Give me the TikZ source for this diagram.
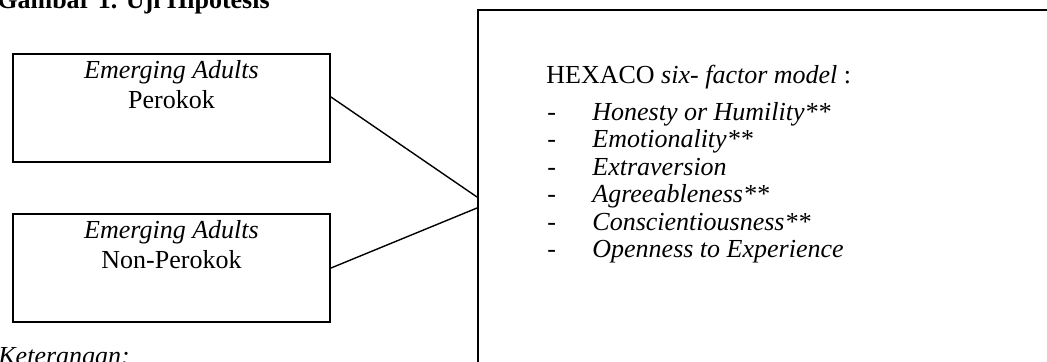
\documentclass[tikz,border=0pt]{standalone}
\usepackage{fontspec}
\setmainfont{Liberation Serif}
\usetikzlibrary{positioning}

\begin{document}
\begin{tikzpicture}[x=0.5pt,y=-0.5pt,
  groupbox/.style={draw, line width=1pt, minimum width=158.5pt,
               minimum height=54pt, inner sep=0pt},
  grouptext/.style={anchor=north, align=center, inner sep=0pt,
               font=\fontsize{13}{14.75}\selectfont},
  modelbox/.style={draw, line width=1pt, minimum width=296pt,
               minimum height=187pt, inner sep=0pt},
  plaintext/.style={anchor=base west, inner sep=0pt,
               font=\fontsize{13}{13.75}\selectfont},
  link/.style={line width=0.7pt}
]
\useasboundingbox (0,0) rectangle (1047,361);
\clip (0,0) rectangle (1047,361);

\node[plaintext, font=\fontsize{13}{13.75}\selectfont\bfseries] (title) at (-3,8) {Gambar 1. Uji Hipotesis};

% the two groups
\node[groupbox] (perokok) at (171.5,108) {};
\node[grouptext, below=3.6pt of perokok.north] (perokoktext) {\textit{Emerging Adults}\\Perokok};
\node[groupbox] (nonperokok) at (171.5,268) {};
\node[grouptext, below=3.6pt of nonperokok.north] (nonperokoktext) {\textit{Emerging Adults}\\Non-Perokok};

% the model
\node[modelbox] (hexaco) at (774,197) {};
\node[plaintext] (hexhead) at (546,83) {HEXACO \textit{six- factor model} :};
\node[plaintext] (traits) at (547,120) {%
  \begin{tabular}[t]{@{}p{22.5pt}@{}l@{}}
  - & \textit{Honesty or Humility**}\\
  - & \textit{Emotionality**}\\
  - & \textit{Extraversion}\\
  - & \textit{Agreeableness**}\\
  - & \textit{Conscientiousness**}\\
  - & \textit{Openness to Experience}
  \end{tabular}};

\draw[link] ([yshift=5.5pt]perokok.east) -- (hexaco.west);
\draw[link] (nonperokok.east) -- ([yshift=-5.5pt]hexaco.west);

\node[plaintext, font=\fontsize{13}{13.75}\selectfont\itshape] (note) at (-2,364) {Keterangan:};
\end{tikzpicture}
\end{document}
